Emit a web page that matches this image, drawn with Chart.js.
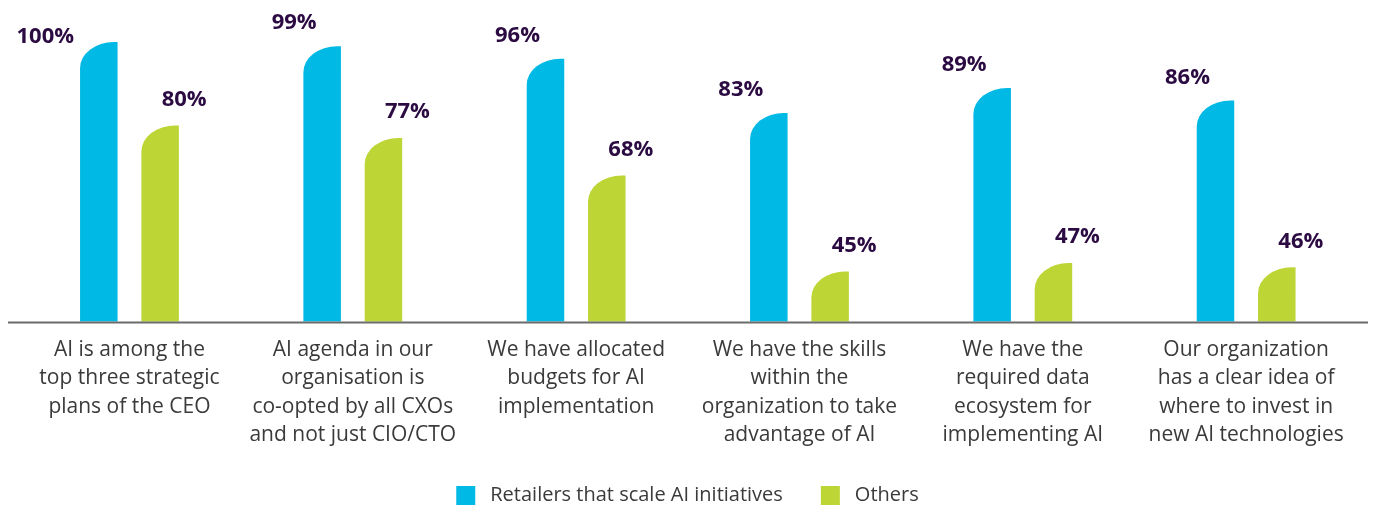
<!DOCTYPE html>
<html>
<head>
<meta charset="utf-8">
<script src="https://cdn.jsdelivr.net/npm/chart.js@4/dist/chart.umd.min.js"></script>
<style>
  html, body { margin: 0; padding: 0; background: #ffffff; }
  #wrap { width: 1375px; height: 508px; }
</style>
</head>
<body>
<div id="wrap"><canvas id="c" width="1375" height="508"></canvas></div>
<script>
// ---- data ----
const categories = [
  ["AI is among the", "top three strategic", "plans of the CEO"],
  ["AI agenda in our", "organisation is", "co-opted by all CXOs", "and not just CIO/CTO"],
  ["We have allocated", "budgets for AI", "implementation"],
  ["We have the skills", "within the", "organization to take", "advantage of AI"],
  ["We have the", "required data", "ecosystem for", "implementing AI"],
  ["Our organization", "has a clear idea of", "where to invest in", "new AI technologies"]
];
const seriesNames = ["Retailers that scale AI initiatives", "Others"];
const retailersValues = [100, 99, 96, 83, 89, 86];
const othersValues = [80, 77, 68, 45, 47, 46];
const axisMin = 33;
const axisMax = 103;

// ---- styles ----
const BLUE = "#00b9e5";
const GREEN = "#bdd636";
const LABEL_COLOR = "#2b0b42";
const TEXT_COLOR = "#3a3a3a";
const FONT = '"Open Sans", "Noto Sans", sans-serif';

function drawBarShape(ctx, el, color, basePx) {
  const left = el.x - el.width / 2;
  const right = el.x + el.width / 2;
  const top = el.y;
  const base = basePx;
  const rx = el.width * 0.9;
  const ry = Math.min(26, base - top);
  ctx.save();
  ctx.fillStyle = color;
  ctx.beginPath();
  ctx.moveTo(left, base);
  ctx.lineTo(left, top + ry);
  ctx.ellipse(left + rx, top + ry, rx, ry, 0, Math.PI, 1.5 * Math.PI);
  ctx.lineTo(right, top);
  ctx.lineTo(right, base);
  ctx.closePath();
  ctx.fill();
  ctx.restore();
}

const customDraw = {
  id: 'customDraw',
  beforeDatasetsDraw(chart) {
    return false;
  },
  afterDraw(chart) {
    const ctx = chart.ctx;
    const yBase = chart.scales.y.getPixelForValue(axisMin);
    // bars
    chart.data.datasets.forEach((ds, di) => {
      const meta = chart.getDatasetMeta(di);
      meta.data.forEach((el) => drawBarShape(ctx, el, ds.backgroundColor, yBase));
    });
    // baseline
    ctx.save();
    ctx.strokeStyle = "#6b6b6b";
    ctx.lineWidth = 2;
    ctx.beginPath();
    ctx.moveTo(8, yBase + 1);
    ctx.lineTo(1368, yBase + 1);
    ctx.stroke();
    ctx.restore();
    // value labels
    ctx.save();
    ctx.font = 'bold 22px ' + FONT;
    ctx.fillStyle = LABEL_COLOR;
    ctx.textBaseline = 'middle';
    chart.data.datasets.forEach((ds, di) => {
      const meta = chart.getDatasetMeta(di);
      meta.data.forEach((el, i) => {
        const txt = ds.data[i] + '%';
        let x, y;
        if (di === 0) {
          x = el.x - 28; y = el.y - 23;
          ctx.textAlign = 'center';
          if (y < 22) {
            ctx.textAlign = 'right';
            x = el.x - el.width / 2 - 6;
            y = el.y - 5;
          }
        } else {
          ctx.textAlign = 'center';
          x = el.x + 24; y = el.y - 26;
        }
        ctx.fillText(txt, x, y);
      });
    });
    ctx.restore();
    // legend
    ctx.save();
    ctx.font = '20px ' + FONT;
    ctx.textBaseline = 'middle';
    ctx.textAlign = 'left';
    const box = 19, gapText = 15, gapItem = 38;
    const widths = chart.data.datasets.map(ds => ctx.measureText(ds.label).width);
    let total = 0;
    widths.forEach((w, i) => { total += box + gapText + w + (i < widths.length - 1 ? gapItem : 0); });
    let lx = (chart.width - total) / 2;
    const ly = 486;
    chart.data.datasets.forEach((ds, i) => {
      ctx.fillStyle = ds.backgroundColor;
      ctx.fillRect(lx, ly, box, box);
      ctx.fillStyle = TEXT_COLOR;
      ctx.fillText(ds.label, lx + box + gapText, ly + box / 2);
      lx += box + gapText + widths[i] + gapItem;
    });
    ctx.restore();
  }
};

new Chart(document.getElementById('c'), {
  type: 'bar',
  data: {
    labels: categories,
    datasets: [
      { label: seriesNames[0], data: retailersValues, backgroundColor: BLUE },
      { label: seriesNames[1], data: othersValues, backgroundColor: GREEN }
    ]
  },
  options: {
    responsive: false,
    animation: false,
    devicePixelRatio: 1,
    categoryPercentage: 0.549,
    barPercentage: 0.612,
    layout: { padding: { left: 17.8, right: 17.2, top: 29.5, bottom: 0 } },
    plugins: {
      legend: { display: false },
      tooltip: { enabled: false }
    },
    scales: {
      x: {
        grid: { display: false, drawTicks: false },
        border: { display: false },
        ticks: {
          autoSkip: false,
          maxRotation: 0,
          minRotation: 0,
          padding: 14,
          color: TEXT_COLOR,
          font: { family: FONT, size: 21, lineHeight: 1.357 }
        },
        afterFit(scale) { scale.height = 508 - 321.5; }
      },
      y: {
        display: false,
        min: axisMin,
        max: axisMax
      }
    }
  },
  plugins: [customDraw]
});
</script>
</body>
</html>
